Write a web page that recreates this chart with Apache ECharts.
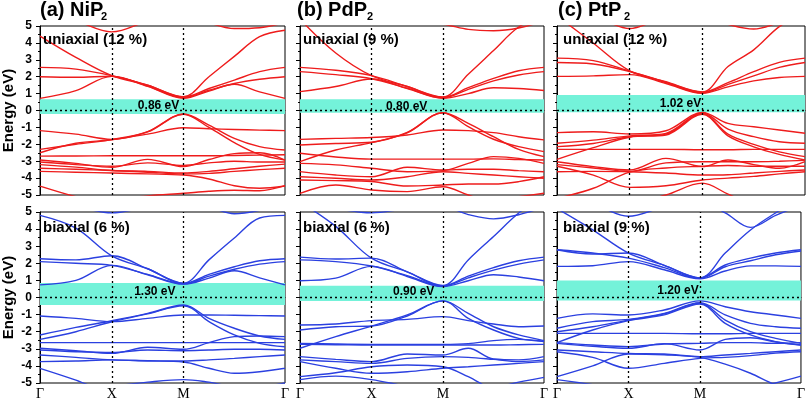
<!DOCTYPE html>
<html>
<head>
<meta charset="utf-8">
<script src="https://cdn.jsdelivr.net/npm/echarts@6/dist/echarts.min.js"></script>
<style>html,body{margin:0;padding:0;background:#fff}#c{width:808px;height:401px}</style>
</head>
<body>
<div id="c"></div>
<script>
// k-path sample points: Γ, Γ-X, X, X-M, M, M-Γ (1/4, 1/2, 3/4), Γ
const K = [0, 0.25, 0.5, 0.75, 1.0, 1.177, 1.354, 1.530, 1.707];
const kTicks = [0, 0.5, 1.0, 1.707];
const kLabels = ['Γ', 'X', 'M', 'Γ'];

// (a) NiP2 uniaxial 12 %
const niP2_uni = [
  [0.72, 1.18, 2.02, 1.43, 0.72, 1.15, 1.55, 1.1, 0.72],
  [2.0, 1.97, 2.03, 1.45, 0.76, 1.2, 1.6, 1.85, 2.0],
  [2.55, 2.45, 2.06, 1.5, 0.8, 1.3, 1.8, 2.3, 2.55],
  [4.4, 3.14, 2.06, 1.5, 0.82, 2.0, 3.2, 4.37, 4.75],
  [5.8, 5.3, 4.65, 5.3, 5.9, 5.2, 4.85, 4.9, 5.2],
  [-1.19, -1.4, -1.71, -1.25, -0.21, -0.86, -1.65, -2.14, -2.34],
  [-2.3, -2.0, -1.72, -1.27, -0.22, -1.0, -1.9, -2.6, -2.93],
  [-2.5, -1.94, -1.73, -1.4, -1.02, -1.08, -1.12, -1.16, -1.19],
  [-2.7, -2.69, -2.68, -2.68, -2.68, -2.68, -2.66, -2.64, -2.62],
  [-2.93, -3.13, -3.36, -2.89, -3.32, -2.9, -2.55, -2.5, -2.93],
  [-3.05, -3.2, -3.3, -3.1, -3.25, -3.1, -3.0, -3.05, -3.05],
  [-3.2, -3.35, -3.55, -3.6, -3.7, -3.6, -3.45, -3.3, -3.17],
  [-3.42, -3.48, -3.55, -3.65, -3.75, -3.72, -3.6, -3.5, -3.42],
  [-3.6, -3.65, -3.7, -3.75, -3.82, -4.05, -4.45, -4.6, -4.47],
  [-4.47, -5.1, -5.6, -5.5, -5.2, -5.5, -5.8, -5.9, -6.0],
  [-5.8, -5.6, -5.3, -5.05, -4.9, -4.78, -4.72, -4.75, -4.45]
];
// (b) PdP2 uniaxial 9 %
const pdP2_uni = [
  [1.12, 1.42, 1.86, 1.3, 0.72, 1.0, 1.35, 1.3, 1.18],
  [2.3, 2.12, 1.88, 1.32, 0.75, 1.25, 1.75, 2.1, 2.3],
  [2.55, 2.38, 2.06, 1.42, 0.78, 1.35, 1.9, 2.35, 2.55],
  [5.4, 3.4, 2.06, 1.42, 0.8, 2.15, 3.55, 4.94, 5.6],
  [5.6, 5.3, 5.3, 5.2, 5.1, 4.8, 4.72, 4.88, 5.3],
  [-1.71, -1.65, -1.6, -1.45, -1.15, -1.19, -1.31, -1.55, -1.74],
  [-2.04, -1.95, -1.88, -1.3, -0.13, -0.96, -1.7, -2.14, -2.43],
  [-3.03, -2.34, -1.9, -1.32, -0.13, -0.76, -1.55, -2.3, -2.73],
  [-2.53, -2.75, -2.88, -2.88, -2.88, -2.88, -2.86, -2.9, -2.93],
  [-3.13, -3.22, -3.42, -3.62, -3.56, -3.13, -2.73, -2.83, -3.13],
  [-3.62, -3.82, -3.92, -3.36, -3.52, -3.48, -3.48, -3.56, -3.62],
  [-3.92, -4.01, -4.11, -3.92, -3.62, -3.72, -3.82, -3.92, -4.01],
  [-4.11, -4.15, -4.2, -4.47, -4.41, -4.35, -4.35, -4.21, -3.92],
  [-4.9, -4.41, -4.7, -4.8, -4.51, -5.0, -5.5, -5.6, -5.5],
  [-5.5, -5.3, -5.1, -5.2, -5.4, -5.4, -5.3, -5.1, -4.9]
];
// (c) PtP2 uniaxial 12 %
const ptP2_uni = [
  [2.02, 2.05, 2.12, 1.6, 1.02, 1.4, 1.75, 1.95, 2.02],
  [2.84, 2.75, 2.3, 1.65, 1.05, 1.55, 2.05, 2.55, 2.84],
  [3.1, 2.95, 2.33, 1.68, 1.08, 1.65, 2.3, 2.85, 3.1],
  [5.6, 3.98, 2.35, 1.7, 1.1, 2.6, 3.59, 4.96, 5.8],
  [6.0, 5.6, 4.85, 5.5, 5.6, 5.1, 4.82, 5.2, 5.6],
  [-1.31, -1.26, -1.39, -1.2, -0.12, -0.76, -0.96, -1.15, -1.35],
  [-1.94, -1.75, -1.5, -1.35, -0.15, -1.1, -1.55, -1.85, -1.94],
  [-2.14, -1.95, -1.55, -1.4, -0.2, -1.4, -2.0, -2.45, -2.73],
  [-2.89, -2.2, -1.58, -1.45, -0.22, -1.5, -2.15, -2.6, -2.93],
  [-2.3, -2.3, -2.3, -2.3, -2.32, -2.32, -2.3, -2.3, -2.3],
  [-3.03, -3.32, -3.52, -2.83, -3.32, -2.93, -3.2, -3.42, -3.03],
  [-3.2, -3.4, -3.6, -3.1, -3.03, -3.03, -3.03, -3.0, -2.95],
  [-3.62, -3.6, -3.62, -3.7, -3.82, -3.8, -3.7, -3.6, -3.52],
  [-3.3, -3.82, -4.55, -4.45, -4.11, -4.0, -3.9, -3.75, -3.62],
  [-5.2, -4.6, -3.65, -3.4, -3.3, -3.25, -3.3, -3.3, -3.3],
  [-6.0, -5.8, -5.5, -5.0, -4.3, -4.95, -5.6, -5.9, -6.0]
];
// (a) NiP2 biaxial 6 %
const niP2_bi = [
  [0.74, 1.0, 1.88, 1.33, 0.78, 1.13, 1.56, 1.15, 0.74],
  [2.1, 2.0, 1.88, 1.35, 0.8, 1.25, 1.65, 1.95, 2.1],
  [2.27, 2.2, 2.44, 1.68, 0.82, 1.35, 1.8, 2.15, 2.27],
  [4.8, 4.06, 2.44, 1.68, 0.84, 2.2, 3.48, 4.65, 4.8],
  [5.5, 5.3, 4.95, 5.3, 5.6, 5.3, 4.9, 5.1, 5.5],
  [-1.08, -1.22, -1.41, -1.22, -1.02, -1.02, -1.04, -1.06, -1.08],
  [-2.19, -1.75, -1.36, -0.93, -0.44, -1.22, -1.8, -2.25, -2.45],
  [-2.45, -2.0, -1.42, -0.96, -0.48, -1.41, -2.19, -2.68, -2.88],
  [-2.64, -2.64, -2.64, -2.64, -2.64, -2.64, -2.64, -2.64, -2.64],
  [-2.97, -3.11, -3.27, -2.91, -3.03, -2.64, -2.29, -2.25, -2.29],
  [-3.07, -3.17, -3.22, -3.07, -3.11, -3.07, -3.03, -3.03, -3.07],
  [-3.36, -3.5, -3.65, -3.69, -3.71, -3.65, -3.56, -3.46, -3.36],
  [-3.75, -3.71, -3.65, -3.71, -3.77, -4.14, -4.43, -4.34, -4.14],
  [-4.14, -4.83, -5.6, -5.8, -5.6, -5.5, -5.5, -5.3, -5.2],
  [-5.6, -5.4, -5.2, -4.95, -4.8, -4.95, -5.2, -5.2, -5.0]
];
// (b) PdP2 biaxial 6 %
const pdP2_bi = [
  [0.98, 1.13, 1.82, 1.23, 0.64, 0.98, 1.33, 1.2, 0.98],
  [2.2, 2.1, 1.84, 1.28, 0.66, 1.15, 1.6, 1.95, 2.2],
  [2.36, 2.25, 2.3, 1.5, 0.68, 1.25, 1.75, 2.15, 2.36],
  [5.6, 4.16, 2.3, 1.5, 0.7, 2.2, 3.57, 4.94, 6.0],
  [5.5, 5.2, 4.95, 5.2, 5.3, 4.85, 4.6, 4.84, 5.3],
  [-1.61, -1.55, -1.35, -1.28, -1.12, -1.35, -1.55, -1.71, -1.67],
  [-1.9, -1.71, -1.67, -1.08, -0.2, -0.93, -1.71, -2.19, -2.52],
  [-2.97, -2.29, -1.67, -1.02, -0.2, -1.22, -1.9, -2.39, -2.58],
  [-2.68, -2.72, -2.74, -2.74, -2.74, -2.7, -2.52, -2.45, -2.55],
  [-2.74, -2.76, -2.78, -2.78, -2.78, -2.78, -2.78, -2.76, -2.74],
  [-3.46, -3.62, -3.75, -3.3, -3.36, -2.97, -3.6, -3.65, -3.46],
  [-3.65, -3.75, -3.85, -3.56, -3.46, -3.5, -3.62, -3.75, -3.65],
  [-3.75, -4.14, -4.43, -4.34, -4.14, -4.05, -3.95, -3.85, -3.75],
  [-4.63, -4.4, -4.05, -3.95, -4.05, -4.63, -5.4, -5.6, -5.5],
  [-4.8, -4.6, -4.8, -5.2, -5.5, -5.5, -5.3, -4.95, -4.67]
];
// (c) PtP2 biaxial 9 %
const ptP2_bi = [
  [1.82, 1.86, 2.1, 1.62, 1.09, 1.55, 1.85, 1.85, 1.82],
  [2.79, 2.54, 2.6, 1.88, 1.15, 1.9, 2.3, 2.6, 2.79],
  [2.79, 2.6, 2.3, 1.75, 1.12, 1.8, 2.15, 2.5, 2.72],
  [5.2, 3.96, 2.6, 1.88, 1.15, 2.6, 3.95, 4.95, 5.8],
  [6.0, 5.5, 4.75, 5.3, 5.6, 4.95, 4.1, 4.8, 5.4],
  [-1.22, -0.96, -1.02, -0.73, -0.2, -0.54, -0.83, -1.02, -1.22],
  [-1.8, -1.41, -1.28, -0.93, -0.3, -1.02, -1.51, -1.71, -1.8],
  [-2.0, -1.71, -1.32, -0.96, -0.34, -1.32, -2.0, -2.39, -2.68],
  [-2.64, -1.9, -1.35, -1.02, -0.38, -1.51, -2.19, -2.58, -2.78],
  [-2.1, -2.1, -2.1, -2.1, -2.12, -2.12, -2.1, -2.1, -2.1],
  [-2.64, -2.78, -2.87, -2.72, -2.68, -2.64, -2.64, -2.68, -2.64],
  [-2.68, -2.85, -2.97, -2.7, -3.07, -2.45, -2.35, -2.6, -2.78],
  [-3.07, -3.17, -3.27, -3.3, -3.46, -3.36, -3.27, -3.17, -3.07],
  [-3.17, -3.5, -4.14, -3.85, -3.56, -3.5, -3.4, -3.25, -3.17],
  [-4.63, -4.0, -3.3, -3.35, -3.5, -3.9, -4.43, -5.1, -5.4],
  [-4.8, -5.1, -5.5, -5.6, -5.6, -5.5, -5.3, -5.0, -4.6]
];

const panelBands = [niP2_uni, pdP2_uni, ptP2_uni, niP2_bi, pdP2_bi, ptP2_bi];
const gapRanges = [[-0.2, 0.66], [-0.13, 0.67], [-0.1, 0.92], [-0.44, 0.85], [-0.2, 0.68], [-0.18, 1.0]];
const gapLabels = ['0.86 eV', '0.80 eV', '1.02 eV', '1.30 eV', '0.90 eV', '1.20 eV'];
const gapLabelAt = [[0.826, 0.27], [0.746, 0.23], [0.85, 0.43], [0.80, 0.32], [0.795, 0.33], [0.847, 0.37]];
const strainLabels = ['uniaxial (12 %)', 'uniaxial (9 %)', 'uniaxial (12 %)', 'biaxial (6 %)', 'biaxial (6 %)', 'biaxial (9 %)'];
const panelNames = ['(a) NiP', '(b) PdP', '(c) PtP'];
const panelSubs = ['2', '2', '2'];

const FONT = '"Liberation Sans", Arial, Helvetica, sans-serif';
const SERIF = '"Liberation Serif", "Times New Roman", serif';
const rowColors = ['#EE1C1C', '#2B40E0'];
const colLeft = [40, 300, 557];
const colWidth = [245, 244, 248];
const rowTop = [26, 212];
const rowHeight = [169, 171];
const titleLeft = [40, 297, 558];
const subLeft = [101, 367, 624];
const strainLeft = [43, 303, 563];
const strainTop = [32, 220];

const grids = [], xAxes = [], yAxes = [], series = [], titles = [];
for (let p = 0; p < 6; p++) {
  const row = Math.floor(p / 3), col = p % 3;
  grids.push({left: colLeft[col], top: rowTop[row], width: colWidth[col], height: rowHeight[row],
    show: true, borderColor: '#000', borderWidth: 1, backgroundColor: 'transparent', containLabel: false});
  xAxes.push({type: 'value', gridIndex: p, min: 0, max: 1.707,
    axisLine: {show: true, lineStyle: {color: '#000', width: 1}},
    axisTick: {show: false}, splitLine: {show: false},
    axisLabel: row === 1 ? {show: true, customValues: kTicks, margin: 4,
      fontFamily: SERIF, fontSize: 14, color: '#000',
      formatter: v => { const i = kTicks.findIndex(t => Math.abs(t - v) < 1e-6); return i >= 0 ? kLabels[i] : ''; }}
      : {show: false}});
  yAxes.push({type: 'value', gridIndex: p, min: -5, max: 5, interval: 1,
    axisLine: {show: true, lineStyle: {color: '#000', width: 1}},
    axisTick: {show: true, length: 4, lineStyle: {color: '#000'}},
    minorTick: {show: true, splitNumber: 2, length: 2, lineStyle: {color: '#000'}},
    splitLine: {show: false},
    axisLabel: {show: col === 0, fontFamily: FONT, fontWeight: 'bold', fontSize: 12, color: '#000', margin: 8},
    name: col === 0 ? 'Energy (eV)' : '', nameLocation: 'middle', nameGap: 24,
    nameTextStyle: {fontFamily: FONT, fontWeight: 'bold', fontSize: 15, color: '#000'}});
  // gap band, dotted guide lines
  series.push({type: 'line', xAxisIndex: p, yAxisIndex: p, data: [[0, 0]], showSymbol: false,
    lineStyle: {opacity: 0}, z: 1, silent: true, animation: false,
    markArea: {silent: true, itemStyle: {color: '#74F2D9'},
      data: [[{yAxis: gapRanges[p][0]}, {yAxis: gapRanges[p][1]}]]},
    markLine: {silent: true, symbol: 'none', animation: false, label: {show: false},
      lineStyle: {color: '#000', type: [2, 3], width: 1.3},
      data: [{xAxis: 0.5}, {xAxis: 1.0}, {yAxis: 0}]}});
  // bands
  panelBands[p].forEach(b => {
    series.push({type: 'line', xAxisIndex: p, yAxisIndex: p, smooth: 0.35,
      data: K.map((k, j) => [k, b[j]]), showSymbol: false, silent: true, animation: false,
      lineStyle: {color: rowColors[row], width: 1.4}, z: 3});
  });
  // gap label
  series.push({type: 'line', xAxisIndex: p, yAxisIndex: p, data: [[0, 0]], showSymbol: false,
    lineStyle: {opacity: 0}, z: 5, silent: true, animation: false,
    markPoint: {symbol: 'rect', symbolSize: 1, itemStyle: {color: 'rgba(0,0,0,0)'}, animation: false,
      label: {show: true, position: 'inside', formatter: gapLabels[p], color: '#000',
        fontFamily: FONT, fontWeight: 'bold', fontSize: 12},
      data: [{coord: gapLabelAt[p]}]}});
  titles.push({text: strainLabels[p], left: strainLeft[col], top: strainTop[row], padding: 0,
    textStyle: {fontFamily: FONT, fontWeight: 'bold', fontSize: 15, color: '#000'}});
}
for (let c = 0; c < 3; c++) {
  titles.push({text: panelNames[c], left: titleLeft[c], top: 0, padding: 0,
    textStyle: {fontFamily: FONT, fontWeight: 'bold', fontSize: 20, color: '#000', lineHeight: 20}});
  titles.push({text: panelSubs[c], left: subLeft[c], top: 11, padding: 0,
    textStyle: {fontFamily: FONT, fontWeight: 'bold', fontSize: 11, color: '#000', lineHeight: 11}});
}

const chart = echarts.init(document.getElementById('c'), null, {renderer: 'canvas'});
chart.setOption({animation: false, backgroundColor: '#fff', title: titles,
  grid: grids, xAxis: xAxes, yAxis: yAxes, series: series});
</script>
</body>
</html>
